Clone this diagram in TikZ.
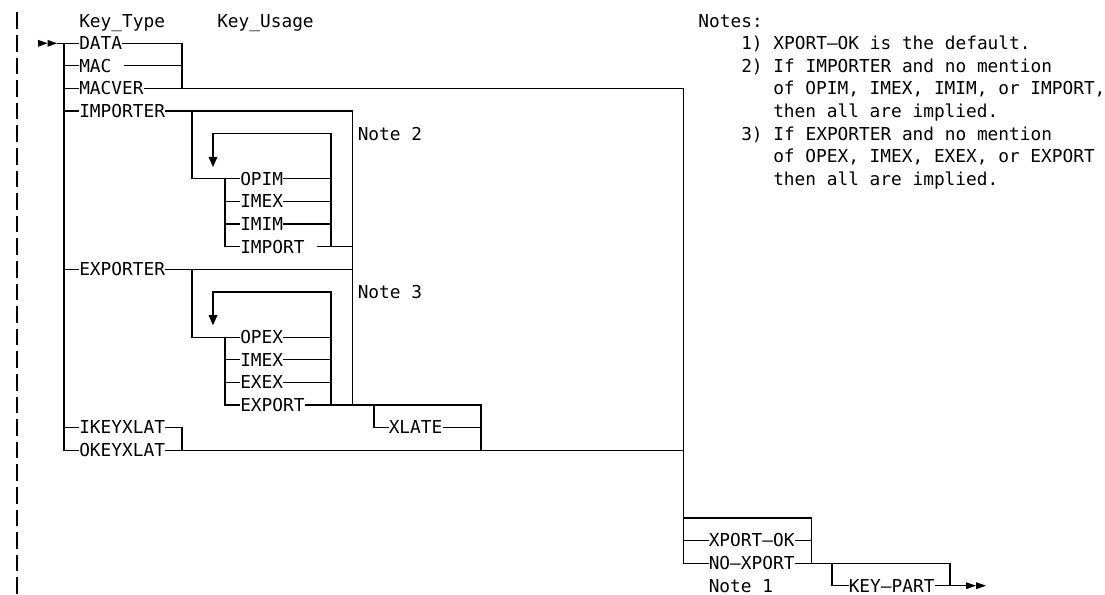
\documentclass[tikz,border=0pt]{standalone}
\usepackage{fontspec}
\newfontfamily\dvmono{DejaVu Sans Mono}
\newcommand\diagfont{\dvmono\fontsize{13.35pt}{16pt}\selectfont}
\begin{document}
% x is measured in pixels, y in text rows (one row = 22.6 px)
\begin{tikzpicture}[x=0.75pt,y=-16.95pt,
  track/.style={line width=0.9pt},
  bar/.style={line width=1.5pt},
  lbl/.style={anchor=west,inner sep=0pt,text height=9.73pt,text depth=0pt,font=\diagfont},
  tip/.style={fill=black,draw=none}]
\useasboundingbox (0,-0.9159) rectangle (1105,25.4115);

% left margin bar
\foreach \r in {0,...,25}
  \draw[bar] (17,\r-0.37) -- (17,\r+0.37);

% ---------- labels ----------
\node[lbl] (ktype)  at (79,0)  {Key\_Type};
\node[lbl] (kusage) at (217,0) {Key\_Usage};

\node[lbl] (data)     at (79,1)  {DATA};
\node[lbl] (mac)      at (79,2)  {MAC};
\node[lbl] (macver)   at (79,3)  {MACVER};
\node[lbl] (importer) at (79,4)  {IMPORTER};
\node[lbl] (exporter) at (79,11) {EXPORTER};
\node[lbl] (ikey)     at (79,18) {IKEYXLAT};
\node[lbl] (okey)     at (79,19) {OKEYXLAT};

\node[lbl] (opim)   at (240,7)  {OPIM};
\node[lbl] (imexa)  at (240,8)  {IMEX};
\node[lbl] (imim)   at (240,9)  {IMIM};
\node[lbl] (import) at (240,10) {IMPORT};
\node[lbl] (opex)   at (240,14) {OPEX};
\node[lbl] (imexb)  at (240,15) {IMEX};
\node[lbl] (exex)   at (240,16) {EXEX};
\node[lbl] (export) at (240,17) {EXPORT};

\node[lbl] (note2) at (357.5,5)  {Note 2};
\node[lbl] (note3) at (357.5,12) {Note 3};
\node[lbl] (xlate) at (388.5,18) {XLATE};

\node[lbl] (xok)     at (708.5,23) {XPORT–OK};
\node[lbl] (noxp)    at (708.5,24) {NO–XPORT};
\node[lbl] (note1)   at (708.5,25) {Note 1};
\node[lbl] (keypart) at (848.5,25) {KEY–PART};

% notes block
\node[lbl] (notes) at (698.2,0) {Notes:};
\node[lbl] (n1)  at (741,1) {1) XPORT–OK is the default.};
\node[lbl] (n2)  at (741,2) {2) If IMPORTER and no mention};
\node[lbl] (n2b) at (773,3) {of OPIM, IMEX, IMIM, or IMPORT,};
\node[lbl] (n2c) at (773,4) {then all are implied.};
\node[lbl] (n3)  at (741,5) {3) If EXPORTER and no mention};
\node[lbl] (n3b) at (773,6) {of OPEX, IMEX, EXEX, or EXPORT};
\node[lbl] (n3c) at (773,7) {then all are implied.};

% ---------- junction points ----------
\coordinate (entry)  at (57,1);
\coordinate (rail)   at (64,1);
\coordinate (railb)  at (64,19);
\coordinate (dj)     at (182,3);
\coordinate (kj)     at (182,19);
\coordinate (outer)  at (352.3,17);
\coordinate (xj)     at (481,19);
\coordinate (xdrop)  at (374,17);
\coordinate (bigr)   at (683.3,24);
\coordinate (boxtl)  at (683.3,22);
\coordinate (boxtr)  at (811.7,22);
\coordinate (boxbr)  at (811.7,24);
\coordinate (kpdrop) at (832,24);
\coordinate (kpj)    at (950,25);
\coordinate (exit)   at (966,25);

% ---------- entry ----------
\fill[tip] (38,0.845) -- (47.5,1) -- (38,1.155) -- cycle;
\fill[tip] (47.5,0.845) -- (57,1) -- (47.5,1.155) -- cycle;
\draw[track] (entry) -- (data.west);

% main rail
\draw[track] (rail) -- (railb) -- (okey.west);
\foreach \n in {mac,macver,importer,exporter,ikey}
  \draw[track] (\n.west -| rail) -- (\n.west);

% DATA / MAC
\draw[track] (data.east) -| (dj);
\draw[track] (mac.east) ++(12,0) -- (mac.east -| dj);

% MACVER to the right-hand rail
\draw[track] (macver.east) -| (bigr) -- (noxp.west);

% IMPORTER and EXPORTER share the outer vertical
\draw[track] (importer.east) -| (outer);
\draw[track] (exporter.east) -- (exporter.east -| outer);

% IMPORTER options with repeat loop
\coordinate (idrop) at (192,4);
\coordinate (irail) at (225,7);
\coordinate (iloop) at (331,10);
\draw[track] (idrop) |- (opim.west);
\draw[track] (irail) |- (import.west);
\foreach \n in {imexa,imim}
  \draw[track] (\n.west -| irail) -- (\n.west);
\foreach \n in {opim,imexa,imim}
  \draw[track] (\n.east) -- (\n.east -| iloop);
\draw[track] (213,6.05) |- (331,5) -- (iloop);
\fill[tip] (208.5,6.031) -- (217.5,6.031) -- (213,6.473) -- cycle;
\draw[track] (import.east) ++(12,0) -- (import.east -| outer);

% EXPORTER options with repeat loop
\coordinate (edrop) at (192,11);
\coordinate (erail) at (225,14);
\coordinate (eloop) at (331,17);
\draw[track] (edrop) |- (opex.west);
\draw[track] (erail) |- (export.west);
\foreach \n in {imexb,exex}
  \draw[track] (\n.west -| erail) -- (\n.west);
\foreach \n in {opex,imexb,exex}
  \draw[track] (\n.east) -- (\n.east -| eloop);
\draw[track] (213,13.05) |- (331,12) -- (eloop);
\fill[tip] (208.5,13.031) -- (217.5,13.031) -- (213,13.473) -- cycle;

% EXPORT row through optional XLATE
\draw[track] (export.east) -| (xj);
\draw[track] (xdrop) |- (xlate.west);
\draw[track] (xlate.east) -- (xlate.east -| xj);

% IKEYXLAT / OKEYXLAT
\draw[track] (ikey.east) -| (kj);
\draw[track] (okey.east) -- (okey.east -| bigr);

% XPORT choice
\draw[track] (boxtl) -- (boxtr) -- (boxbr);
\draw[track] (xok.west -| bigr) -- (xok.west);
\draw[track] (xok.east) -- (xok.east -| boxtr);
\draw[track] (noxp.east) -| (kpj);

% optional KEY-PART and exit
\draw[track] (kpdrop) |- (keypart.west);
\draw[track] (keypart.east) -- (exit);
\fill[tip] (966,24.845) -- (976,25) -- (966,25.155) -- cycle;
\fill[tip] (976,24.845) -- (986,25) -- (976,25.155) -- cycle;
\end{tikzpicture}
\end{document}
